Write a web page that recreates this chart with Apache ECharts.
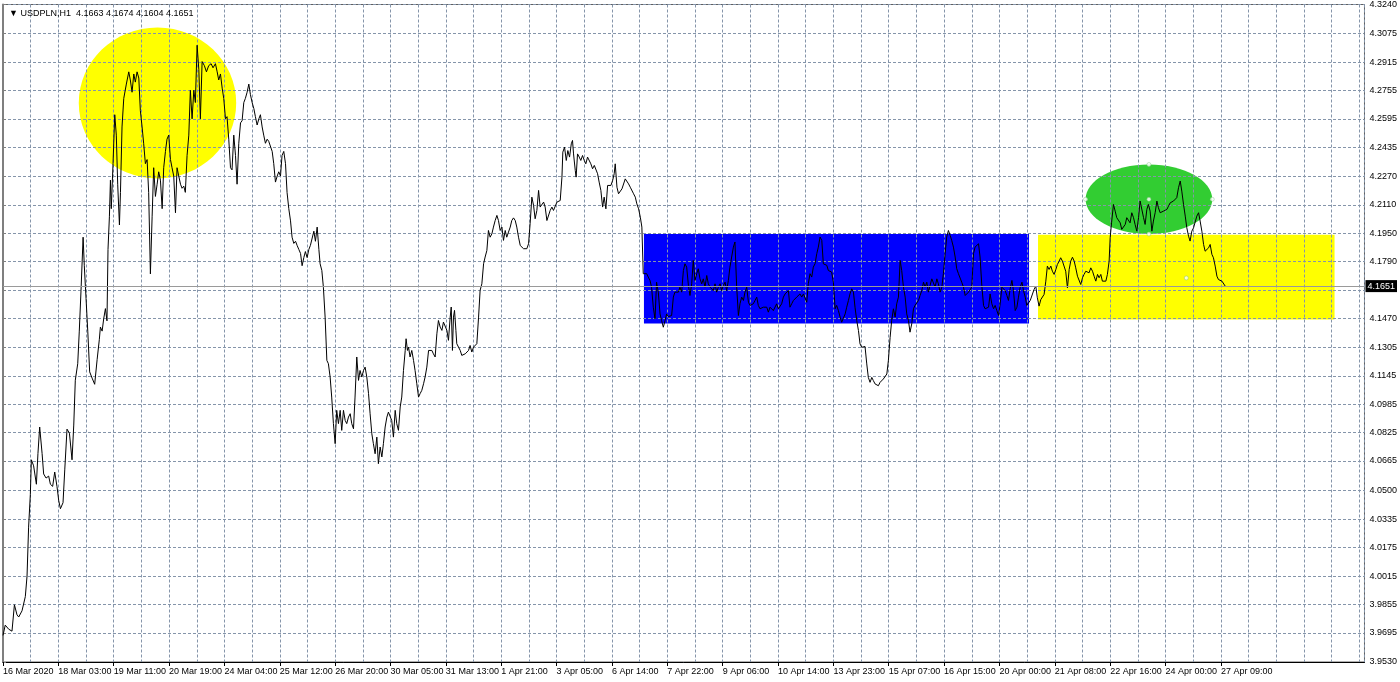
<!DOCTYPE html>
<html>
<head>
<meta charset="utf-8">
<title>USDPLN,H1</title>
<script src="https://cdn.jsdelivr.net/npm/echarts@6/dist/echarts.min.js"></script>
<style>
  html, body { margin: 0; padding: 0; background: #fff; }
  #chart { width: 1400px; height: 682px; }
</style>
</head>
<body>
<div id="chart"></div>
<script>
// ---- data ----
const symbolName = 'USDPLN,H1';
const lastBar = [4.1663, 4.1674, 4.1604, 4.1651]; // open, high, low, close

// one label every 32 hourly bars, first bar = 16 Mar 19:00
const xTickLabels = ['16 Mar 2020', '18 Mar 03:00', '19 Mar 11:00', '20 Mar 19:00', '24 Mar 04:00',
  '25 Mar 12:00', '26 Mar 20:00', '30 Mar 05:00', '31 Mar 13:00', '1 Apr 21:00', '3 Apr 05:00',
  '6 Apr 14:00', '7 Apr 22:00', '9 Apr 06:00', '10 Apr 14:00', '13 Apr 23:00', '15 Apr 07:00',
  '16 Apr 15:00', '20 Apr 00:00', '21 Apr 08:00', '22 Apr 16:00', '24 Apr 00:00', '27 Apr 09:00'];

const yTickLabels = [4.3240, 4.3075, 4.2915, 4.2755, 4.2595, 4.2435, 4.2270, 4.2110, 4.1950, 4.1790,
  4.1630, 4.1470, 4.1305, 4.1145, 4.0985, 4.0825, 4.0665, 4.0500, 4.0335, 4.0175, 4.0015, 3.9855,
  3.9695, 3.9530];

// hourly closes, [bar number, price]
const legMarch = [
  [0,3.9680],[1.3,3.9738],[3.3,3.9715],[5.2,3.9704],[6.6,3.9853],[8.1,3.9796],[9.1,3.9784],[11.0,3.9819],
  [12.9,3.9899],[13.9,4.0015],[14.8,4.0291],[15.8,4.0475],[16.4,4.0671],[17.7,4.0637],[19.3,4.0533],
  [20.2,4.0706],[21.2,4.0856],[22.6,4.0706],[23.5,4.0591],[24.9,4.0568],[26.4,4.0579],[27.4,4.0533],
  [28.7,4.0521],[29.9,4.0602],[31.2,4.0521],[32.2,4.0441],[33.2,4.0395],[34.7,4.0429],[35.7,4.0614],
  [37.0,4.0844],[38.4,4.0821],[39.9,4.0671],[40.9,4.0867],[41.8,4.1120],[43.2,4.1213],[44.1,4.1397],
  [45.1,4.1627],[46.3,4.1927],[47.0,4.1766],[48.0,4.1581],[49.0,4.1397],[50.1,4.1167],[51.5,4.1132],
  [53.0,4.1097],[54.4,4.1236],[55.7,4.1351],[56.3,4.1420],[57.3,4.1397],[58.2,4.1466],[59.2,4.1524],
  [60.1,4.1455],[60.7,4.1858],[61.5,4.2042],[62.1,4.2249],[62.6,4.2088],[63.6,4.2342],[64.6,4.2618],
  [65.5,4.2503],[66.3,4.2226],[67.3,4.1996],[67.9,4.2180],[68.8,4.2549],[69.8,4.2710],[71.3,4.2791],
  [72.7,4.2860],[73.6,4.2814],[74.6,4.2745],[75.6,4.2848],[76.5,4.2802],[77.5,4.2860],[78.5,4.2825],
  [79.4,4.2641],[80.4,4.2549],[81.3,4.2457],[82.3,4.2342],[83.3,4.2365],[84.2,4.2180],[85.2,4.1720],
  [86.2,4.2042],[87.1,4.2319],[88.1,4.2157],[89.1,4.2226],[90.0,4.2296],[91.0,4.2249],[92.0,4.2088],
  [92.9,4.2319],[93.9,4.2411],[94.8,4.2480],[95.8,4.2503],[96.8,4.2365],[97.7,4.2319],[98.7,4.2272],
  [99.7,4.2065],[100.6,4.2319],[101.6,4.2272],[102.6,4.2226],[103.5,4.2203],[104.5,4.2215],[105.4,4.2180],
  [106.4,4.2388],[107.4,4.2503],[108.3,4.2756],[109.3,4.2595],[110.3,4.2756],[111.2,4.2687],[112.2,4.3010],
  [113.2,4.2872],[114.1,4.2595],[115.1,4.2918],[116.4,4.2895],[117.6,4.2860],[118.9,4.2895],[120.3,4.2906],
  [121.4,4.2883],[122.8,4.2906],[123.8,4.2860],[124.7,4.2814],[125.7,4.2848],[126.7,4.2768],[127.6,4.2710],
  [128.6,4.2595],[129.5,4.2607],[130.5,4.2480],[131.5,4.2319],[132.4,4.2307],[133.4,4.2503],[134.4,4.2388],
  [135.3,4.2226],[136.3,4.2457],[137.3,4.2572],[138.2,4.2584],[139.2,4.2687],[140.1,4.2710],[141.1,4.2745],
  [142.1,4.2791],[143.0,4.2733],[144.0,4.2687],[145.0,4.2653],[145.9,4.2607],[146.9,4.2560],[147.9,4.2595],
  [148.8,4.2618],[149.8,4.2549],[150.7,4.2503],[151.7,4.2457],[152.7,4.2480],[153.6,4.2468],[154.6,4.2457],
  [155.6,4.2411],[156.5,4.2342],[157.5,4.2238],[158.5,4.2272],[159.4,4.2296],[160.4,4.2272],[161.3,4.2388],
  [162.3,4.2411],[163.3,4.2342],[164.2,4.2180],[165.2,4.2088],[166.2,4.2019],[167.1,4.1927],[168.1,4.1892],
  [169.1,4.1904],[170.0,4.1881],[171.0,4.1858],[172.0,4.1835],[172.9,4.1766],[173.9,4.1812],[174.8,4.1846],
  [175.8,4.1812],[176.8,4.1858],[177.7,4.1881],[178.7,4.1892],[179.7,4.1961],[180.6,4.1904],[181.6,4.1984],
  [182.6,4.1858]
];
const legEarlyApril = [
  [183.3,4.1777],[184.3,4.1739],[185.2,4.1645],[186.2,4.1476],[187.2,4.1232],[188.1,4.1213],[189.1,4.1138],
  [190.0,4.1025],[191.0,4.0875],[192.0,4.0762],[192.9,4.0950],[193.9,4.0875],[194.9,4.0950],[195.8,4.0837],
  [196.8,4.0950],[197.8,4.0893],[198.7,4.0875],[199.7,4.0912],[200.7,4.0931],[201.6,4.0875],[202.6,4.0846],
  [203.5,4.1025],[204.5,4.1251],[205.5,4.1119],[206.4,4.1175],[207.4,4.1138],[208.4,4.1175],[209.3,4.1194],
  [210.3,4.1138],[211.3,4.1044],[212.2,4.0931],[213.2,4.0818],[214.1,4.0762],[215.1,4.0705],[216.1,4.0799],
  [217.0,4.0649],[218.0,4.0743],[219.0,4.0687],[219.9,4.0762],[220.9,4.0856],[221.9,4.0912],[222.8,4.0940],
  [223.8,4.0931],[224.7,4.0893],[225.7,4.0799],[226.7,4.0950],[227.6,4.0875],[228.6,4.0837],[229.6,4.0969],
  [230.5,4.1025],[231.5,4.1175],[232.5,4.1288],[233.0,4.1354],[233.8,4.1288],[234.4,4.1307],[235.3,4.1251],
  [236.3,4.1288],[237.3,4.1232],[238.2,4.1175],[239.2,4.1100],[240.2,4.1025],[241.1,4.1044],[242.1,4.1063],
  [243.1,4.1100],[244.0,4.1138],[245.0,4.1194],[246.0,4.1288],[246.9,4.1298],[247.9,4.1288],[248.8,4.1269],
  [249.8,4.1251],[250.8,4.1382],[251.7,4.1457],[252.7,4.1420],[253.7,4.1401],[254.6,4.1448],[255.6,4.1457],
  [256.6,4.1401],[257.5,4.1345],[258.5,4.1476],[259.1,4.1533],[259.8,4.1288],[260.4,4.1476],[261.0,4.1514],
  [261.8,4.1401],[262.3,4.1326],[263.3,4.1307],[264.3,4.1288],[265.2,4.1260],[266.2,4.1251],[267.2,4.1269],
  [268.1,4.1260],[269.1,4.1288],[270.0,4.1316],[271.0,4.1279],[272.0,4.1307],[272.9,4.1307],[273.9,4.1326],
  [274.9,4.1476],[275.8,4.1627],[276.8,4.1664],[277.8,4.1777],[278.7,4.1815],[279.7,4.1852],[280.6,4.1965],
  [281.6,4.1927],[282.6,4.1946],[283.5,4.1984],[284.5,4.2021],[285.5,4.2050],[286.4,4.2021],[287.4,4.1965],
  [288.4,4.1984],[289.3,4.1909],[290.3,4.1965],[291.2,4.1927],[292.2,4.1956],[293.2,4.1984],[294.1,4.2021],
  [295.1,4.2036],[296.1,4.2021],[297.0,4.1984],[298.0,4.1927],[299.0,4.1880],[299.9,4.1871],[300.9,4.1862],
  [301.9,4.1852],[302.8,4.1862],[303.8,4.1890],[304.7,4.2003],[305.7,4.2153],[306.7,4.2106],[307.6,4.2031],
  [308.6,4.2078],[309.6,4.2191],[310.5,4.2097],[311.5,4.2087],[312.5,4.2125],[313.4,4.2097],[314.4,4.2021],
  [315.3,4.2012],[316.3,4.2078],[317.3,4.2097],[318.2,4.2078],[319.2,4.2068],[320.2,4.2125],[321.1,4.2134],
  [322.1,4.2134],[323.1,4.2266],[323.6,4.2407],[324.6,4.2435],[325.6,4.2360],[326.5,4.2416],[327.5,4.2379],
  [328.5,4.2454],[329.2,4.2473],[329.8,4.2397],[330.8,4.2303],[331.3,4.2266],[332.1,4.2397],[333.1,4.2379],
  [334.0,4.2360],[335.0,4.2388],[336.0,4.2360],[336.9,4.2341],[337.9,4.2379],[338.9,4.2388],[339.8,4.2341],
  [340.8,4.2313],[341.8,4.2332],[342.7,4.2332],[343.7,4.2285],[344.6,4.2238],[345.6,4.2191],[346.6,4.2097],
  [347.5,4.2153],[348.5,4.2087],[349.5,4.2219],[350.4,4.2228],[351.4,4.2219],[352.4,4.2247],[353.3,4.2285],
  [353.9,4.2341],[354.9,4.2209],[355.8,4.2172],[356.8,4.2162],[357.8,4.2200],[358.7,4.2209],[359.7,4.2256],
  [360.6,4.2247],[361.6,4.2228],[362.6,4.2209],[363.5,4.2200],[364.5,4.2172],[365.5,4.2153],[366.4,4.2115],
  [367.4,4.2087],[368.4,4.2040],[369.3,4.1984]
];
const legMidApril = [
  [370.1,4.1721],[371.1,4.1711],[372.1,4.1721],[373.0,4.1702],[374.0,4.1683],[374.9,4.1645],[375.9,4.1532],
  [376.9,4.1466],[377.8,4.1673],[378.8,4.1617],[379.8,4.1494],[380.7,4.1457],[381.7,4.1419],[382.7,4.1457],
  [383.6,4.1494],[384.6,4.1479],[385.5,4.1485],[386.5,4.1485],[387.5,4.1589],[388.4,4.1617],[389.4,4.1626],
  [390.4,4.1617],[391.3,4.1645],[392.3,4.1617],[393.3,4.1739],[394.2,4.1777],[395.2,4.1758],[396.2,4.1655],
  [397.1,4.1598],[398.1,4.1664],[399.0,4.1796],[400.0,4.1683],[401.0,4.1721],[401.9,4.1749],[402.9,4.1692],
  [403.9,4.1664],[404.8,4.1692],[405.8,4.1645],[406.8,4.1711],[407.7,4.1664],[408.7,4.1645],[409.6,4.1655],
  [410.6,4.1626],[411.6,4.1664],[412.5,4.1617],[413.5,4.1645],[414.5,4.1664],[415.4,4.1626],[416.4,4.1655],
  [417.4,4.1673],[418.3,4.1626],[419.3,4.1683],[420.2,4.1758],[421.2,4.1815],[422.2,4.1871],[423.1,4.1900],
  [424.1,4.1645],[425.1,4.1485],[426.0,4.1551],[427.0,4.1589],[428.0,4.1570],[428.9,4.1617],[429.9,4.1645],
  [430.9,4.1560],[431.8,4.1542],[432.8,4.1542],[433.7,4.1551],[434.7,4.1570],[435.7,4.1589],[436.6,4.1542],
  [437.6,4.1523],[438.6,4.1513],[439.5,4.1532],[440.5,4.1542],[441.5,4.1532],[442.4,4.1504],[443.4,4.1532],
  [444.3,4.1542],[445.3,4.1513],[446.3,4.1523],[447.2,4.1551],[448.2,4.1523],[449.2,4.1532],[450.1,4.1551],
  [451.1,4.1589],[452.1,4.1607],[453.0,4.1617],[454.0,4.1626],[454.9,4.1532],[455.9,4.1551],[456.9,4.1570],
  [457.8,4.1579],[458.8,4.1589],[459.8,4.1598],[460.7,4.1607],[461.7,4.1589],[462.7,4.1607],[463.6,4.1617],
  [464.6,4.1560],[465.5,4.1664],[466.5,4.1721],[467.5,4.1702],[468.4,4.1758],[469.4,4.1777],[470.4,4.1834],
  [471.3,4.1871],[472.3,4.1928],[473.3,4.1909],[474.2,4.1777],[475.2,4.1786],[476.2,4.1768],[477.1,4.1739],
  [478.1,4.1730],[479.0,4.1730],[480.0,4.1673],[481.0,4.1523],[481.9,4.1542],[482.9,4.1513],[483.9,4.1476],
  [484.8,4.1447],[485.8,4.1457],[486.8,4.1494],[487.7,4.1532],[488.7,4.1570],[489.6,4.1607],[490.6,4.1636],
  [491.6,4.1617],[492.5,4.1532],[493.5,4.1457],[494.5,4.1400],[495.4,4.1325],[496.4,4.1306],[497.4,4.1315],
  [498.3,4.1310],[499.3,4.1212],[500.2,4.1136],[501.2,4.1108],[502.2,4.1136],[503.1,4.1118],[504.1,4.1099],
  [505.1,4.1089],[506.0,4.1089],[507.0,4.1108],[508.0,4.1118],[508.9,4.1127],[509.9,4.1136],[510.9,4.1155],
  [511.8,4.1231],[512.8,4.1362],[513.7,4.1457],[514.7,4.1523],[515.7,4.1476],[516.6,4.1551],[517.6,4.1589],
  [518.6,4.1796],[519.5,4.1739],[520.5,4.1645],[521.5,4.1589],[522.4,4.1494],[523.4,4.1457],[524.3,4.1391],
  [525.3,4.1438],[526.3,4.1523],[527.2,4.1542],[528.2,4.1542],[529.2,4.1570],[530.1,4.1598],[531.1,4.1626],
  [532.1,4.1673],[533.0,4.1645],[534.0,4.1673],[534.9,4.1617],[535.9,4.1655],[536.9,4.1692],[537.8,4.1702],
  [538.8,4.1645],[539.8,4.1692],[540.7,4.1664],[541.7,4.1617],[542.7,4.1645],[543.6,4.1721],[544.6,4.1834],
  [545.5,4.1928],[546.5,4.1965],[547.5,4.1937],[548.4,4.1909],[549.4,4.1871],[550.4,4.1815],[551.3,4.1749],
  [552.3,4.1721],[553.3,4.1711],[554.2,4.1673],[555.2,4.1645],[556.2,4.1598],[557.1,4.1607],[558.1,4.1617],
  [559.1,4.1617],[560.0,4.1645],[561.0,4.1834],[561.9,4.1871],[562.9,4.1881],[563.9,4.1890],[564.8,4.1815],
  [565.8,4.1655],[566.8,4.1542],[567.7,4.1523],[568.7,4.1523],[569.7,4.1532],[570.6,4.1607],[571.6,4.1551],
  [572.6,4.1523],[573.5,4.1542],[574.5,4.1513],[575.5,4.1485],[576.4,4.1551],[577.4,4.1645],[578.3,4.1636],
  [579.3,4.1626],[580.3,4.1598],[581.2,4.1570],[582.2,4.1636],[583.2,4.1683],[584.1,4.1626],[585.1,4.1513],
  [586.1,4.1532],[587.0,4.1589],[588.0,4.1645],[589.0,4.1673],[589.9,4.1626],[590.9,4.1589],[591.8,4.1542],
  [592.8,4.1551],[593.8,4.1570],[594.7,4.1579]
];
const legLateApril = [
  [596.0,4.1632],[597.0,4.1651],[597.9,4.1585],[598.9,4.1538],[599.9,4.1575],[600.8,4.1585],[601.8,4.1604],
  [602.8,4.1679],[603.7,4.1764],[604.7,4.1745],[605.7,4.1764],[606.6,4.1735],[607.6,4.1717],[608.6,4.1745],
  [609.5,4.1773],[610.5,4.1792],[611.4,4.1811],[612.4,4.1792],[613.4,4.1801],[614.3,4.1735],[615.3,4.1641],
  [616.3,4.1745],[617.2,4.1792],[618.2,4.1814],[619.2,4.1792],[620.1,4.1754],[621.1,4.1707],[622.1,4.1698],
  [623.0,4.1660],[624.0,4.1698],[624.9,4.1717],[625.9,4.1735],[626.9,4.1745],[627.8,4.1726],[628.8,4.1754],
  [629.8,4.1735],[630.7,4.1707],[631.7,4.1679],[632.7,4.1717],[633.6,4.1698],[634.6,4.1717],[635.5,4.1679],
  [636.5,4.1670],[637.5,4.1679],[638.4,4.1717],[639.4,4.1792],[640.0,4.1924],[640.8,4.2008],[641.9,4.2112],
  [642.9,4.2074],[643.8,4.2037],[644.8,4.2027],[645.8,4.2008],[646.7,4.1971],[647.7,4.1961],[648.7,4.1999],
  [649.6,4.2037],[650.6,4.2046],[651.5,4.2008],[652.5,4.2065],[653.5,4.2037],[654.4,4.1999],[655.4,4.1961],
  [656.4,4.2037],[657.3,4.2131],[658.3,4.2121],[659.3,4.2037],[660.2,4.1999],[661.2,4.2084],[662.1,4.2112],
  [663.1,4.2074],[664.1,4.1961],[665.0,4.2018],[666.0,4.2065],[667.0,4.2131],[667.9,4.2093],[668.9,4.2065],
  [669.9,4.2055],[670.8,4.2074],[671.8,4.2065],[672.8,4.2084],[673.7,4.2102],[674.7,4.2121],[675.6,4.2131],
  [676.6,4.2131],[677.6,4.2121],[678.5,4.2150],[679.5,4.2206],[680.5,4.2244],[681.4,4.2187],[682.4,4.2112],
  [683.4,4.2046],[684.3,4.1980],[685.3,4.1933],[686.2,4.1905],[687.2,4.1961],[688.2,4.1980],[689.1,4.1980],
  [690.1,4.2046],[691.1,4.2065],[692.0,4.2018],[693.0,4.1961],[694.0,4.1886],[694.9,4.1848],[695.9,4.1858],
  [696.9,4.1867],[697.8,4.1886],[698.8,4.1830],[699.7,4.1811],[700.7,4.1764],[701.7,4.1707],[702.6,4.1688],
  [703.6,4.1698],[704.6,4.1679],[705.5,4.1670],[706.5,4.1651]
];

// drawn objects on the chart, in bar / price units
const boxes = [          // [bar1, price1, bar2, price2]
  [370.5, 4.1945, 593.1, 4.1440],
  [598.3, 4.1941, 769.7, 4.1462]
];
const ovals = [          // [centre bar, centre price, half width in bars, half height in price]
  [89.3, 4.2684, 45.5, 0.0426],
  [662.4, 4.2141, 36.6, 0.0196]
];
const handles = [        // selection points of the green ellipse + one stray anchor
  [662.4, 4.2337], [625.8, 4.2141], [699.0, 4.2141], [662.4, 4.1945], [662.4, 4.2141], [684.0, 4.1697]
];

// ---- chart ----
const boxColors = ['#0000fe', '#ffff00'];
const ovalColors = ['#ffff00', '#32cd32'];
const font = "'Liberation Sans', Arial, sans-serif";
const fontSize = 9;
const gridLine = { color: '#8595aa', width: 1, type: [3, 2] };
const barsPerLabel = 32;
const closes = [].concat(legMarch, legEarlyApril, legMidApril, legLateApril);

const chart = echarts.init(document.getElementById('chart'));
chart.setOption({
  animation: false,
  backgroundColor: '#ffffff',
  title: {
    text: '▼ ' + symbolName + '  ' + lastBar.map(v => v.toFixed(4)).join(' '),
    left: 4, top: 4,
    textStyle: { fontSize: 9, fontWeight: 'normal', color: '#000', fontFamily: font }
  },
  grid: { left: 2, right: 35, top: 3, bottom: 20, show: true, borderColor: '#606060', borderWidth: 1 },
  xAxis: [{
    type: 'value', min: 0, max: 787, interval: 16, position: 'bottom', z: 2,
    axisLine: { show: true, onZero: false, lineStyle: { color: '#000', width: 1 } },
    axisTick: { show: false },
    splitLine: { show: true, lineStyle: gridLine },
    axisLabel: {
      color: '#000', fontSize: fontSize, fontFamily: font, align: 'left', margin: 5,
      showMinLabel: true, showMaxLabel: true,
      formatter: v => (v % barsPerLabel === 0 && v / barsPerLabel < xTickLabels.length) ? xTickLabels[v / barsPerLabel] : ''
    }
  }, {
    type: 'value', min: 0, max: 787, position: 'bottom', z: 2,
    axisLine: { show: false },
    axisTick: { show: true, length: 4, lineStyle: { color: '#000' },
      customValues: xTickLabels.map((_, k) => k * barsPerLabel) },
    axisLabel: { show: false },
    splitLine: { show: false }
  }],
  yAxis: {
    type: 'value', position: 'right', min: 3.9530, max: 4.3240, z: 2,
    axisLine: { show: true, lineStyle: { color: '#7f7f7f', width: 2 } },
    axisTick: { show: true, length: 3, customValues: yTickLabels, lineStyle: { color: '#7f7f7f' } },
    axisLabel: { customValues: yTickLabels, formatter: v => v.toFixed(4), margin: 5,
      color: '#000', fontSize: fontSize, fontFamily: font },
    splitLine: { show: true, lineStyle: gridLine }
  },
  series: [{
    type: 'custom', name: 'boxes', z: 1, silent: true,
    encode: { x: [0, 2], y: [1, 3] },
    data: boxes,
    renderItem: (params, api) => {
      const p1 = api.coord([api.value(0), api.value(1)]);
      const p2 = api.coord([api.value(2), api.value(3)]);
      return { type: 'rect',
        shape: { x: p1[0], y: p1[1], width: p2[0] - p1[0], height: p2[1] - p1[1] },
        style: { fill: boxColors[params.dataIndex] } };
    }
  }, {
    type: 'custom', name: 'ovals', z: 1, silent: true,
    encode: { x: 0, y: 1 },
    data: ovals,
    renderItem: (params, api) => {
      const c = api.coord([api.value(0), api.value(1)]);
      const s = api.size([api.value(2), api.value(3)]);
      return { type: 'ellipse',
        shape: { cx: c[0], cy: c[1], rx: s[0], ry: s[1] },
        style: { fill: ovalColors[params.dataIndex] } };
    }
  }, {
    type: 'line', name: symbolName, z: 3,
    data: closes, showSymbol: false, symbol: 'none',
    lineStyle: { color: '#000', width: 1 },
    markLine: {
      silent: true, symbol: 'none', animation: false, precision: 4,
      lineStyle: { color: '#9a9a9a', width: 1, type: 'solid' },
      label: { show: true, position: 'end', distance: 1, formatter: lastBar[3].toFixed(4),
        backgroundColor: '#000', color: '#fff', padding: [2, 2, 1, 2], fontSize: fontSize, fontFamily: font },
      data: [{ yAxis: lastBar[3] }]
    }
  }, {
    type: 'scatter', name: 'handles', z: 4, silent: true,
    data: handles, symbol: 'circle', symbolSize: 4,
    itemStyle: { color: '#ffffff', borderColor: '#7fbf7f', borderWidth: 0.6 }
  }]
});
</script>
</body>
</html>
